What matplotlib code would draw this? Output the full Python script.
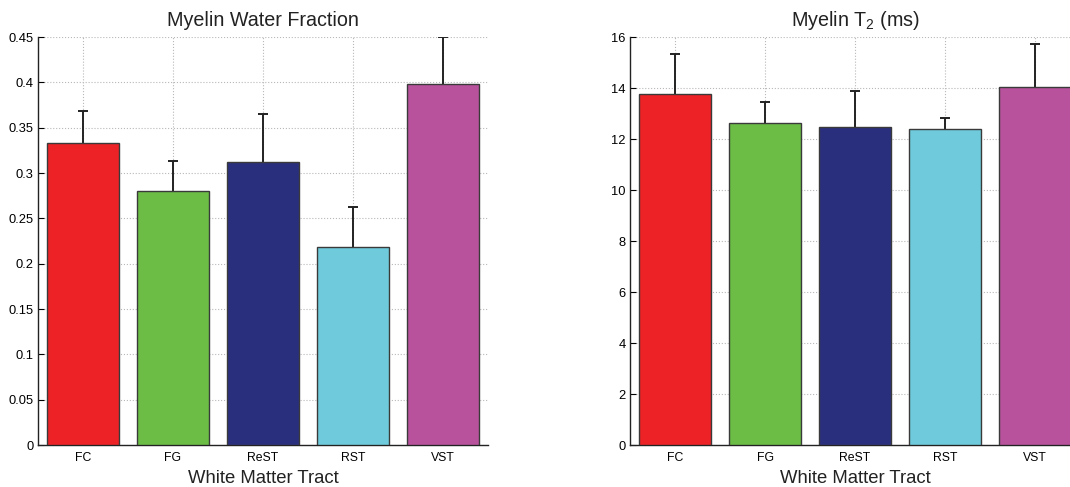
import numpy as np
import matplotlib
matplotlib.use('Agg')
from matplotlib import pyplot as plt

plt.rcParams['font.family'] = ['Liberation Sans', 'DejaVu Sans']
plt.rcParams['mathtext.fontset'] = 'custom'
plt.rcParams['mathtext.rm'] = 'Liberation Sans'
plt.rcParams['mathtext.it'] = 'Liberation Sans'

tracts = ['FC', 'FG', 'ReST', 'RST', 'VST']
colors = ['#ec2227', '#6bbd45', '#2a2f7d', '#6fcbdc', '#b8529d']

mwf_mean = [0.333, 0.280, 0.312, 0.218, 0.398]
mwf_err = [0.035, 0.033, 0.053, 0.044, 0.052]

t2_mean = [13.76, 12.63, 12.47, 12.39, 14.04]
t2_err = [1.57, 0.82, 1.41, 0.43, 1.69]

fig = plt.figure(figsize=(10.7, 4.87), dpi=100)
ax1 = fig.add_axes([0.0355, 0.0862, 0.4206, 0.8378])
ax2 = fig.add_axes([0.5888, 0.0862, 0.4206, 0.8378])


def bar_panel(ax, means, errs, ymax, yticks, yticklabels, title):
    x = np.arange(1, len(tracts) + 1)
    ax.bar(x, means, width=0.8, color=colors, edgecolor='#3a3a3a',
           linewidth=1.0, zorder=3)
    # one-sided (upper) error bars, lower cap hidden
    eb = ax.errorbar(x, means, yerr=[np.zeros(len(errs)), errs], fmt='none',
                     ecolor='#222222', elinewidth=1.4, capsize=3.5,
                     capthick=1.4, zorder=2)
    eb[1][0].set_visible(False)
    ax.set_xlim(0.5, 5.5)
    ax.set_ylim(0, ymax)
    ax.set_xticks(x)
    ax.set_xticklabels(tracts, fontsize=8.8)
    ax.set_yticks(yticks)
    ax.set_yticklabels(yticklabels, fontsize=9.3)
    ax.tick_params(axis='x', length=0, pad=5)
    ax.tick_params(axis='y', direction='in', length=4, width=0.8, pad=3)
    ax.grid(True, linestyle=':', color='#b8b8b8', linewidth=0.8, zorder=0)
    ax.set_axisbelow(True)
    for s in ['top', 'right']:
        ax.spines[s].set_visible(False)
    for s in ['left', 'bottom']:
        ax.spines[s].set_color('#222222')
        ax.spines[s].set_linewidth(1.0)
    ax.set_title(title, fontsize=14.2, pad=8, color='#222222')
    ax.set_xlabel('White Matter Tract', fontsize=13.3, labelpad=4,
                  color='#222222')


bar_panel(ax1, mwf_mean, mwf_err, 0.45,
          np.arange(0, 0.451, 0.05),
          ['0', '0.05', '0.1', '0.15', '0.2', '0.25', '0.3', '0.35', '0.4', '0.45'],
          'Myelin Water Fraction')
bar_panel(ax2, t2_mean, t2_err, 16,
          np.arange(0, 17, 2),
          [str(v) for v in range(0, 17, 2)],
          'Myelin T$_2$ (ms)')

fig.savefig('out.png', dpi=100)
